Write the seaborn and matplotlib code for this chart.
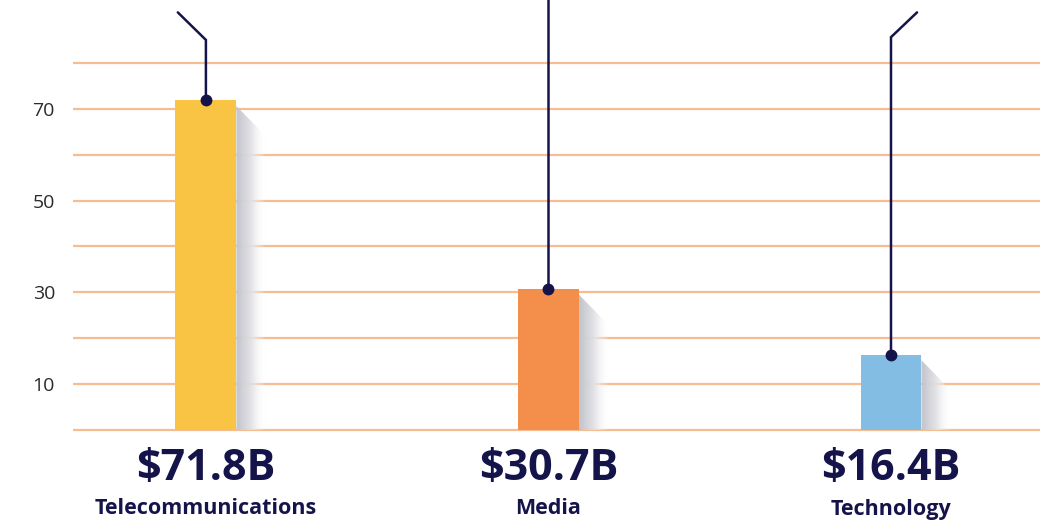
import numpy as np
import pandas as pd
import matplotlib
matplotlib.use("Agg")
import matplotlib.pyplot as plt
from matplotlib.patches import Polygon
from matplotlib.transforms import blended_transform_factory
import seaborn as sns

# Spending by sector (billions of US dollars)
categories = ["Telecommunications", "Media", "Technology"]
values = [71.8, 30.7, 16.4]
value_labels = ["$71.8B", "$30.7B", "$16.4B"]
bar_colors = ["#F9C443", "#F38E4B", "#84BDE4"]
ytick_values = [10, 30, 50, 70]

NAVY = "#15144A"
GRID = "#F6BC92"

sns.set_theme(style="white")
plt.rcParams["font.family"] = ["Open Sans", "DejaVu Sans"]

fig = plt.figure(figsize=(10.5, 5.26), dpi=100)
ax = fig.add_axes([73 / 1050, (526 - 432) / 526, (1040 - 73) / 1050, 432 / 526])

df = pd.DataFrame({"category": categories, "value": values})
sns.barplot(data=df, x="category", y="value", hue="category",
            palette=bar_colors, width=0.178, ax=ax, legend=False,
            saturation=1, zorder=3, linewidth=0)

ax.set_xlim(-0.388, 2.435)
ax.set_ylim(-0.44, 93.7)

# horizontal guide lines every 10 units, labelled at odd tens
ax.set_yticks(np.arange(0, 90, 10))
ax.set_yticklabels([str(int(v)) if int(v) in ytick_values else "" for v in np.arange(0, 90, 10)])
ax.yaxis.grid(True, color=GRID, linewidth=1.6, zorder=0)
ax.tick_params(axis="y", length=0, pad=13, labelsize=14, labelcolor="#2b2b2b")
ax.set_xticks([])
ax.set_xlabel("")
ax.set_ylabel("")
for s in ax.spines.values():
    s.set_visible(False)

# soft drop shadow to the right of each bar
half_w = 0.178 / 2
sh_w = 0.085
grad = np.linspace(0, 1, 256).reshape(1, -1)
shadow_cmap = matplotlib.colors.LinearSegmentedColormap.from_list(
    "shadow", [(0.76, 0.77, 0.79, 1.0), (0.88, 0.88, 0.90, 0.95), (1, 1, 1, 0.0)])
for i, v in enumerate(values):
    xr = i + half_w
    top = v - 1.2
    poly = Polygon([(xr, top), (xr + sh_w, top - 6.5), (xr + sh_w, 0), (xr, 0)],
                   closed=True, facecolor="none", edgecolor="none")
    ax.add_patch(poly)
    im = ax.imshow(grad, cmap=shadow_cmap, aspect="auto",
                   extent=(xr, xr + sh_w, 0, top), zorder=2)
    im.set_clip_path(poly)
ax.set_xlim(-0.388, 2.435)
ax.set_ylim(-0.44, 93.7)

# leader lines rising from the top of each bar
leaders = [
    ([0, 0, -0.082], [71.8, 85.0, 91.0]),
    ([1, 1], [30.7, 95.0]),
    ([2, 2, 2.076], [16.4, 85.6, 91.0]),
]
for xs, ys in leaders:
    ax.plot(xs, ys, color=NAVY, linewidth=1.8, zorder=5, clip_on=False,
            solid_capstyle="round", solid_joinstyle="miter")
for i, v in enumerate(values):
    ax.plot([i], [v], marker="o", markersize=7.5, color=NAVY, zorder=6, clip_on=False)

# value and category labels below the axis
trans = blended_transform_factory(ax.transData, fig.transFigure)
for i, (lab, cat) in enumerate(zip(value_labels, categories)):
    ax.text(i, (526 - 468) / 526, lab, transform=trans, ha="center", va="center",
            fontsize=31, fontweight="bold", color=NAVY)
    ax.text(i, (526 - 509) / 526, cat, transform=trans, ha="center", va="center",
            fontsize=15.5, fontweight="bold", color=NAVY)

fig.savefig("out.png", dpi=100, facecolor="white")
